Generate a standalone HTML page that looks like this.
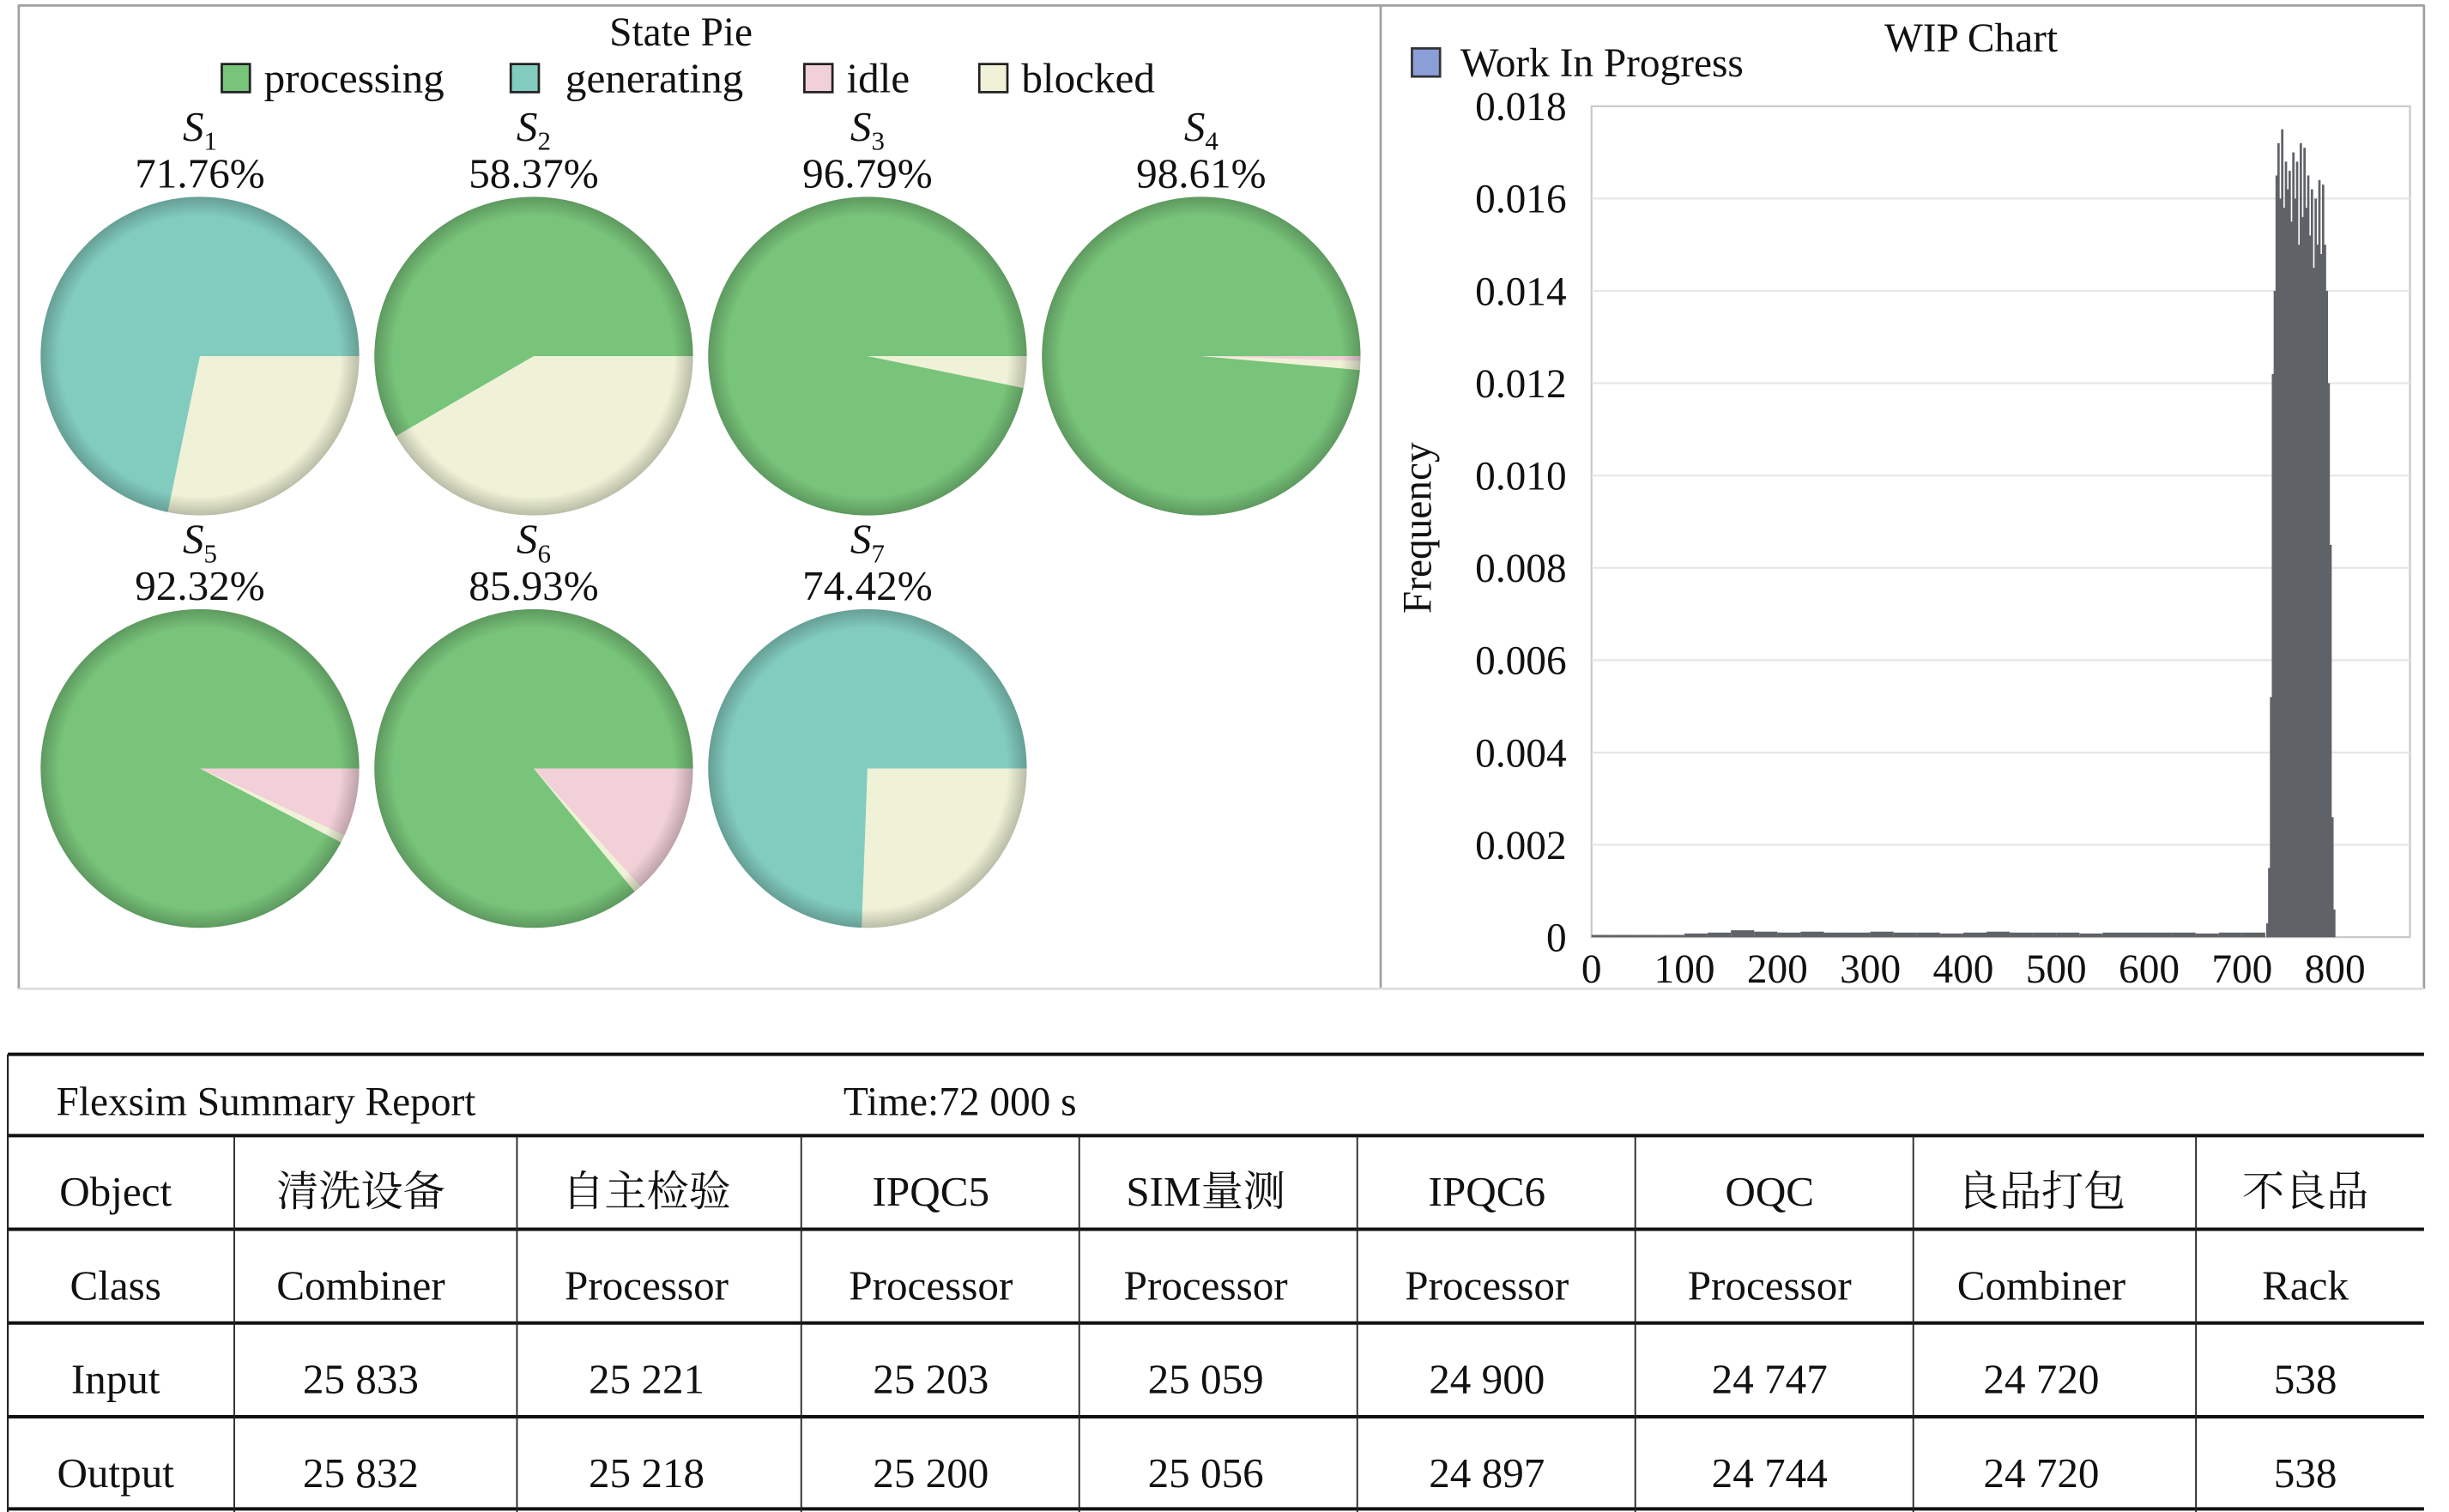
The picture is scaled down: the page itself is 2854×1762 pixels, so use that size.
<!DOCTYPE html>
<html><head><meta charset="utf-8"><style>
html,body{margin:0;padding:0;background:#fff}
svg{display:block}
text{font-family:"Liberation Serif","Noto Serif CJK SC",serif;fill:#111}
</style></head><body>
<svg id="root" width="2854" height="1762" viewBox="0 0 1568 968" preserveAspectRatio="none" xmlns="http://www.w3.org/2000/svg">
<defs>
<radialGradient id="rim" cx="50%" cy="50%" r="50%">
<stop offset="88%" stop-color="#000" stop-opacity="0"/>
<stop offset="100%" stop-color="#000" stop-opacity="0.22"/>
</radialGradient>
</defs>
<g stroke="#a0a0a0" fill="none" stroke-width="1.5">
<line x1="12" y1="3.5" x2="1552" y2="3.5"/>
<line x1="12" y1="3" x2="12" y2="633"/>
<line x1="884" y1="3" x2="884" y2="633"/>
<line x1="1552" y1="3" x2="1552" y2="633"/>
<line x1="12" y1="633" x2="1552" y2="633" stroke="#ddd"/>
</g>
<g id="pies">
<text x="436" y="29" font-size="26" text-anchor="middle">State Pie</text>
</g>
<g id="wip">
<text x="1262" y="33" font-size="26" text-anchor="middle">WIP Chart</text>
<rect x="904" y="31" width="18" height="18" fill="#8c9ed8" stroke="#333" stroke-width="1.5"/>
<text x="935" y="49" font-size="26">Work In Progress</text>
<text transform="translate(916,338) rotate(-90)" font-size="26" text-anchor="middle">Frequency</text>
</g>
<g id="table"></g>
</svg>
<script>
const NS="http://www.w3.org/2000/svg";
function mk(tag,attrs,parent,txt){const e=document.createElementNS(NS,tag);for(const k in attrs)e.setAttribute(k,attrs[k]);if(txt!==undefined)e.textContent=txt;parent.appendChild(e);return e;}

/* ---------- Pie data ---------- */
const pieStates=["idle","blocked","generating","processing"];
const pieLabels=["S1","S2","S3","S4","S5","S6","S7"];
const piePercents=["71.76%","58.37%","96.79%","98.61%","92.32%","85.93%","74.42%"];
const idleVals=[0,0,0,0.49,6.9,13.3,0];
const blockedVals=[28.24,41.63,3.21,0.9,0.78,0.77,25.58];
const generatingVals=[71.76,0,0,0,0,0,74.42];
const processingVals=[0,58.37,96.79,98.61,92.32,85.93,0];
const stateColors={processing:"#78c47a",generating:"#82cbbf",idle:"#f2d0d8",blocked:"#eff2d6"};
const legendItems=["processing","generating","idle","blocked"];

const pies=document.getElementById('pies');
const legX=[142,327,515,627];
legendItems.forEach((s,i)=>{
  const r=mk('rect',{x:legX[i],y:41,width:18,height:18,fill:stateColors[s],stroke:"#222","stroke-width":1.5},pies);
  
  
  const t=mk('text',{x:legX[i]+(i==1?35:27),y:59,"font-size":27},pies,s);
  
  
});
const R=102;
pieLabels.forEach((lab,i)=>{
  const col=i%4,row=Math.floor(i/4);
  const cx=128+col*213.7, cy=228+row*264;
  const g=mk('g',{},pies);
  
  
  const t=mk('text',{x:cx,y:cy-138,"font-size":27,"text-anchor":"middle","font-style":"italic"},g,"S");
  const sub=mk('tspan',{"font-size":17,dy:6,"font-style":"normal"},t,lab.slice(1));
  
  
  const p=mk('text',{x:cx,y:cy-108,"font-size":27,"text-anchor":"middle"},g,piePercents[i]);
  
  
  const vals={idle:idleVals[i],blocked:blockedVals[i],generating:generatingVals[i],processing:processingVals[i]};
  let a0=0;
  pieStates.forEach(s=>{
    const v=vals[s]; if(v<=0)return;
    const a1=a0+v/100*2*Math.PI;
    let path;
    if(v>=99.999){path=`M${cx+R},${cy}A${R},${R} 0 1 1 ${cx-R},${cy}A${R},${R} 0 1 1 ${cx+R},${cy}Z`;}
    else{
      const x0=cx+R*Math.cos(a0),y0=cy+R*Math.sin(a0),x1=cx+R*Math.cos(a1),y1=cy+R*Math.sin(a1);
      path=`M${cx},${cy}L${x0},${y0}A${R},${R} 0 ${a1-a0>Math.PI?1:0} 1 ${x1},${y1}Z`;
    }
    const sl=mk('path',{d:path,fill:stateColors[s]},g);
    
    
    a0=a1;
  });
  const rim=mk('circle',{cx:cx,cy:cy,r:R,fill:"url(#rim)"},g);
  
  
});

/* ---------- WIP histogram data ---------- */
const yTicks=["0","0.002","0.004","0.006","0.008","0.010","0.012","0.014","0.016","0.018"];
const xTicks=[0,100,200,300,400,500,600,700,800];
const baseStart=0, baseWidth=25;
const baseVals=[0.00005,0.00005,0.00005,0.00005,0.00008,0.0001,0.00015,0.00012,0.0001,0.00012,0.0001,0.0001,0.00012,0.0001,0.0001,0.00008,0.0001,0.00012,0.0001,0.0001,0.0001,0.00008,0.0001,0.0001,0.0001,0.0001,0.00008,0.0001,0.0001];
const peakStart=726, peakWidth=2;
const peakVals=[0.0003,0.0015,0.0052,0.0122,0.0140,0.0165,0.0172,0.0160,0.0175,0.0158,0.0168,0.0162,0.0166,0.0155,0.0170,0.0160,0.0168,0.0150,0.0172,0.0156,0.0171,0.0158,0.0165,0.0152,0.0162,0.0145,0.0160,0.0150,0.0164,0.0148,0.0163,0.0150,0.0140,0.0120,0.0085,0.0026,0.0006];

const PX0=1019,PX1=1543,PY0=600,PY1=68;
const xMax=(PX1-PX0)/((1495-PX0)/800);
const xS=v=>PX0+v/xMax*(PX1-PX0);
const yS=v=>PY0-v/0.018*(PY0-PY1);
const wip=document.getElementById('wip');
const frame=mk('rect',{x:PX0,y:PY1,width:PX1-PX0,height:PY0-PY1,fill:"#fff",stroke:"#c8c8c8","stroke-width":1.2},wip);


yTicks.forEach((t,i)=>{
  const v=parseFloat(t),y=yS(v);
  if(i>0&&i<yTicks.length-1){const gl=mk('line',{x1:PX0,x2:PX1,y1:y,y2:y,stroke:"#e6e6e6","stroke-width":1.2},wip);
  }
  const tx=mk('text',{x:1003,y:y+9,"font-size":26,"text-anchor":"end"},wip,t);
  
  
});
xTicks.forEach(v=>{
  const tx=mk('text',{x:xS(v),y:629,"font-size":26,"text-anchor":"middle"},wip,String(v));
  
  
});
const hist=mk('g',{fill:"#5f6368"},wip);


baseVals.forEach((v,i)=>{
  const x0=xS(baseStart+i*baseWidth),x1=xS(baseStart+(i+1)*baseWidth);
  const b=mk('rect',{x:x0,y:yS(v),width:x1-x0,height:PY0-yS(v)},hist);
  
  
});
peakVals.forEach((v,i)=>{
  const x0=xS(peakStart+i*peakWidth),x1=xS(peakStart+(i+1)*peakWidth);
  const b=mk('rect',{x:x0,y:yS(v),width:x1-x0+0.3,height:PY0-yS(v)},hist);
  
  
});

/* ---------- Table ---------- */
const colX=[5,150,331,513,691,869,1047,1225,1406,1552];
const colCenters=[74,231,414,596,772,952,1133,1307,1476];
const rowY=[675,727,787,847,907,966];
const tObjects=["Object","清洗设备","自主检验","IPQC5","SIM量测","IPQC6","OQC","良品打包","不良品"];
const tClasses=["Class","Combiner","Processor","Processor","Processor","Processor","Processor","Combiner","Rack"];
const tInputs=["Input","25 833","25 221","25 203","25 059","24 900","24 747","24 720","538"];
const tOutputs=["Output","25 832","25 218","25 200","25 056","24 897","24 744","24 720","538"];
const tb=document.getElementById('table');
rowY.forEach((y,i)=>{
  const l=mk('line',{x1:5,x2:1552,y1:y,y2:y,stroke:"#111","stroke-width":2.2},tb);
  
  
});
colX.forEach((x,i)=>{
  const l=mk('line',{x1:x,x2:x,y1:(i==0||i==colX.length-1)?675:727,y2:968,stroke:"#222","stroke-width":(i==0)?1.2:1},tb);
  if(i==colX.length-1)l.setAttribute('stroke','none');
  
  
});
const t1=mk('text',{x:36,y:714,"font-size":26},tb,"Flexsim Summary Report");


const t2=mk('text',{x:540,y:714,"font-size":26},tb,"Time:72 000 s");


[tObjects,tClasses,tInputs,tOutputs].forEach((row,r)=>{
  row.forEach((c,j)=>{
    const t=mk('text',{x:colCenters[j],y:rowY[r+1]+45,"font-size":27,"text-anchor":"middle"},tb,c);
    
    
  });
});
</script>
</body></html>
